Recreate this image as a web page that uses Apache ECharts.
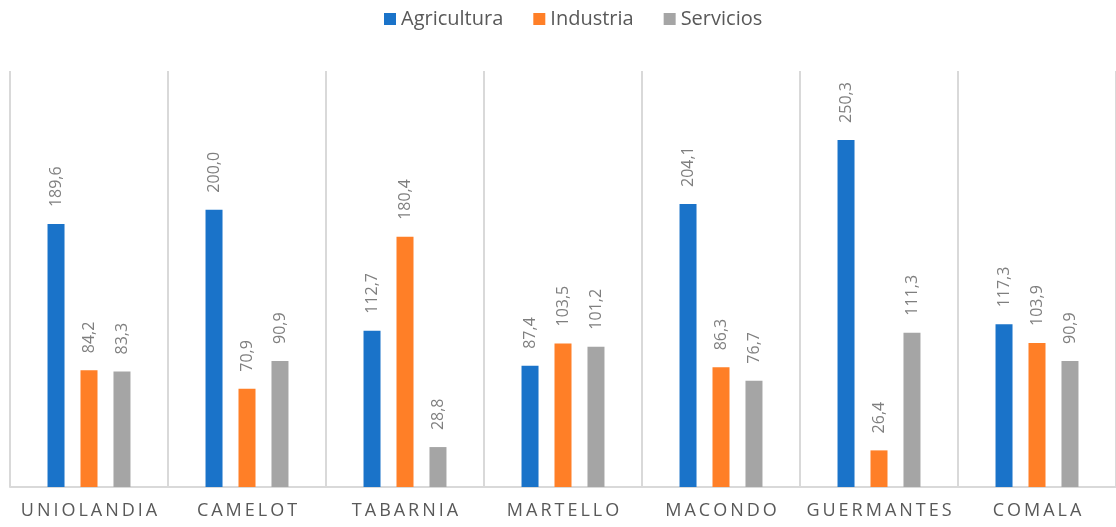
<!DOCTYPE html>
<html>
<head>
<meta charset="utf-8">
<title>Sectores</title>
<script src="https://cdn.jsdelivr.net/npm/echarts@6/dist/echarts.min.js"></script>
<style>
  html, body { margin: 0; padding: 0; background: #fff; }
  #chart { width: 1116px; height: 527px; }
</style>
</head>
<body>
<div id="chart"></div>
<script>
const CATEGORIES  = ['UNIOLANDIA', 'CAMELOT', 'TABARNIA', 'MARTELLO', 'MACONDO', 'GUERMANTES', 'COMALA']
const AGRICULTURA = [189.6, 200.0, 112.7, 87.4, 204.1, 250.3, 117.3]
const INDUSTRIA   = [84.2, 70.9, 180.4, 103.5, 86.3, 26.4, 103.9]
const SERVICIOS   = [83.3, 90.9, 28.8, 101.2, 76.7, 111.3, 90.9]

const FONT = '"Open Sans", "Noto Sans", sans-serif'

const valueLabel = {
  show: true,
  position: 'top',
  rotate: 90,
  align: 'left',
  verticalAlign: 'middle',
  distance: 17,
  color: '#7f7f7f',
  fontFamily: FONT,
  fontSize: 16,
  formatter: p => p.value.toFixed(1).replace('.', ','),
}

function barSeries(name, data, color) {
  return {
    name,
    type: 'bar',
    data,
    barWidth: 17,
    barGap: '94%',
    itemStyle: { color },
    label: valueLabel,
  }
}

const chart = echarts.init(document.getElementById('chart'), null, { renderer: 'canvas' })

chart.setOption({
  animation: false,
  backgroundColor: '#fff',
  legend: {
    top: 4,
    left: 379,
    icon: 'rect',
    itemWidth: 12,
    itemHeight: 12,
    itemGap: 30,
    textStyle: { color: '#595959', fontFamily: FONT, fontSize: 20 },
  },
  grid: { top: 71, bottom: 40, left: 10, right: -2 },
  xAxis: {
    type: 'category',
    data: CATEGORIES,
    axisTick: { show: false },
    axisLine: { lineStyle: { color: '#d9d9d9', width: 2 } },
    splitLine: { show: true, interval: 0, lineStyle: { color: '#d9d9d9', width: 2 } },
    axisLabel: {
      interval: 0,
      color: '#595959',
      fontFamily: FONT,
      fontSize: 18,
      margin: 15,
      formatter: v => v.split('').join('\u2009'),
    },
  },
  yAxis: {
    type: 'value',
    min: 0,
    max: 300,
    show: false,
  },
  series: [
    barSeries('Agricultura', AGRICULTURA, '#1a73c9'),
    barSeries('Industria', INDUSTRIA, '#ff7f27'),
    barSeries('Servicios', SERVICIOS, '#a5a5a5'),
  ],
})
</script>
</body>
</html>
